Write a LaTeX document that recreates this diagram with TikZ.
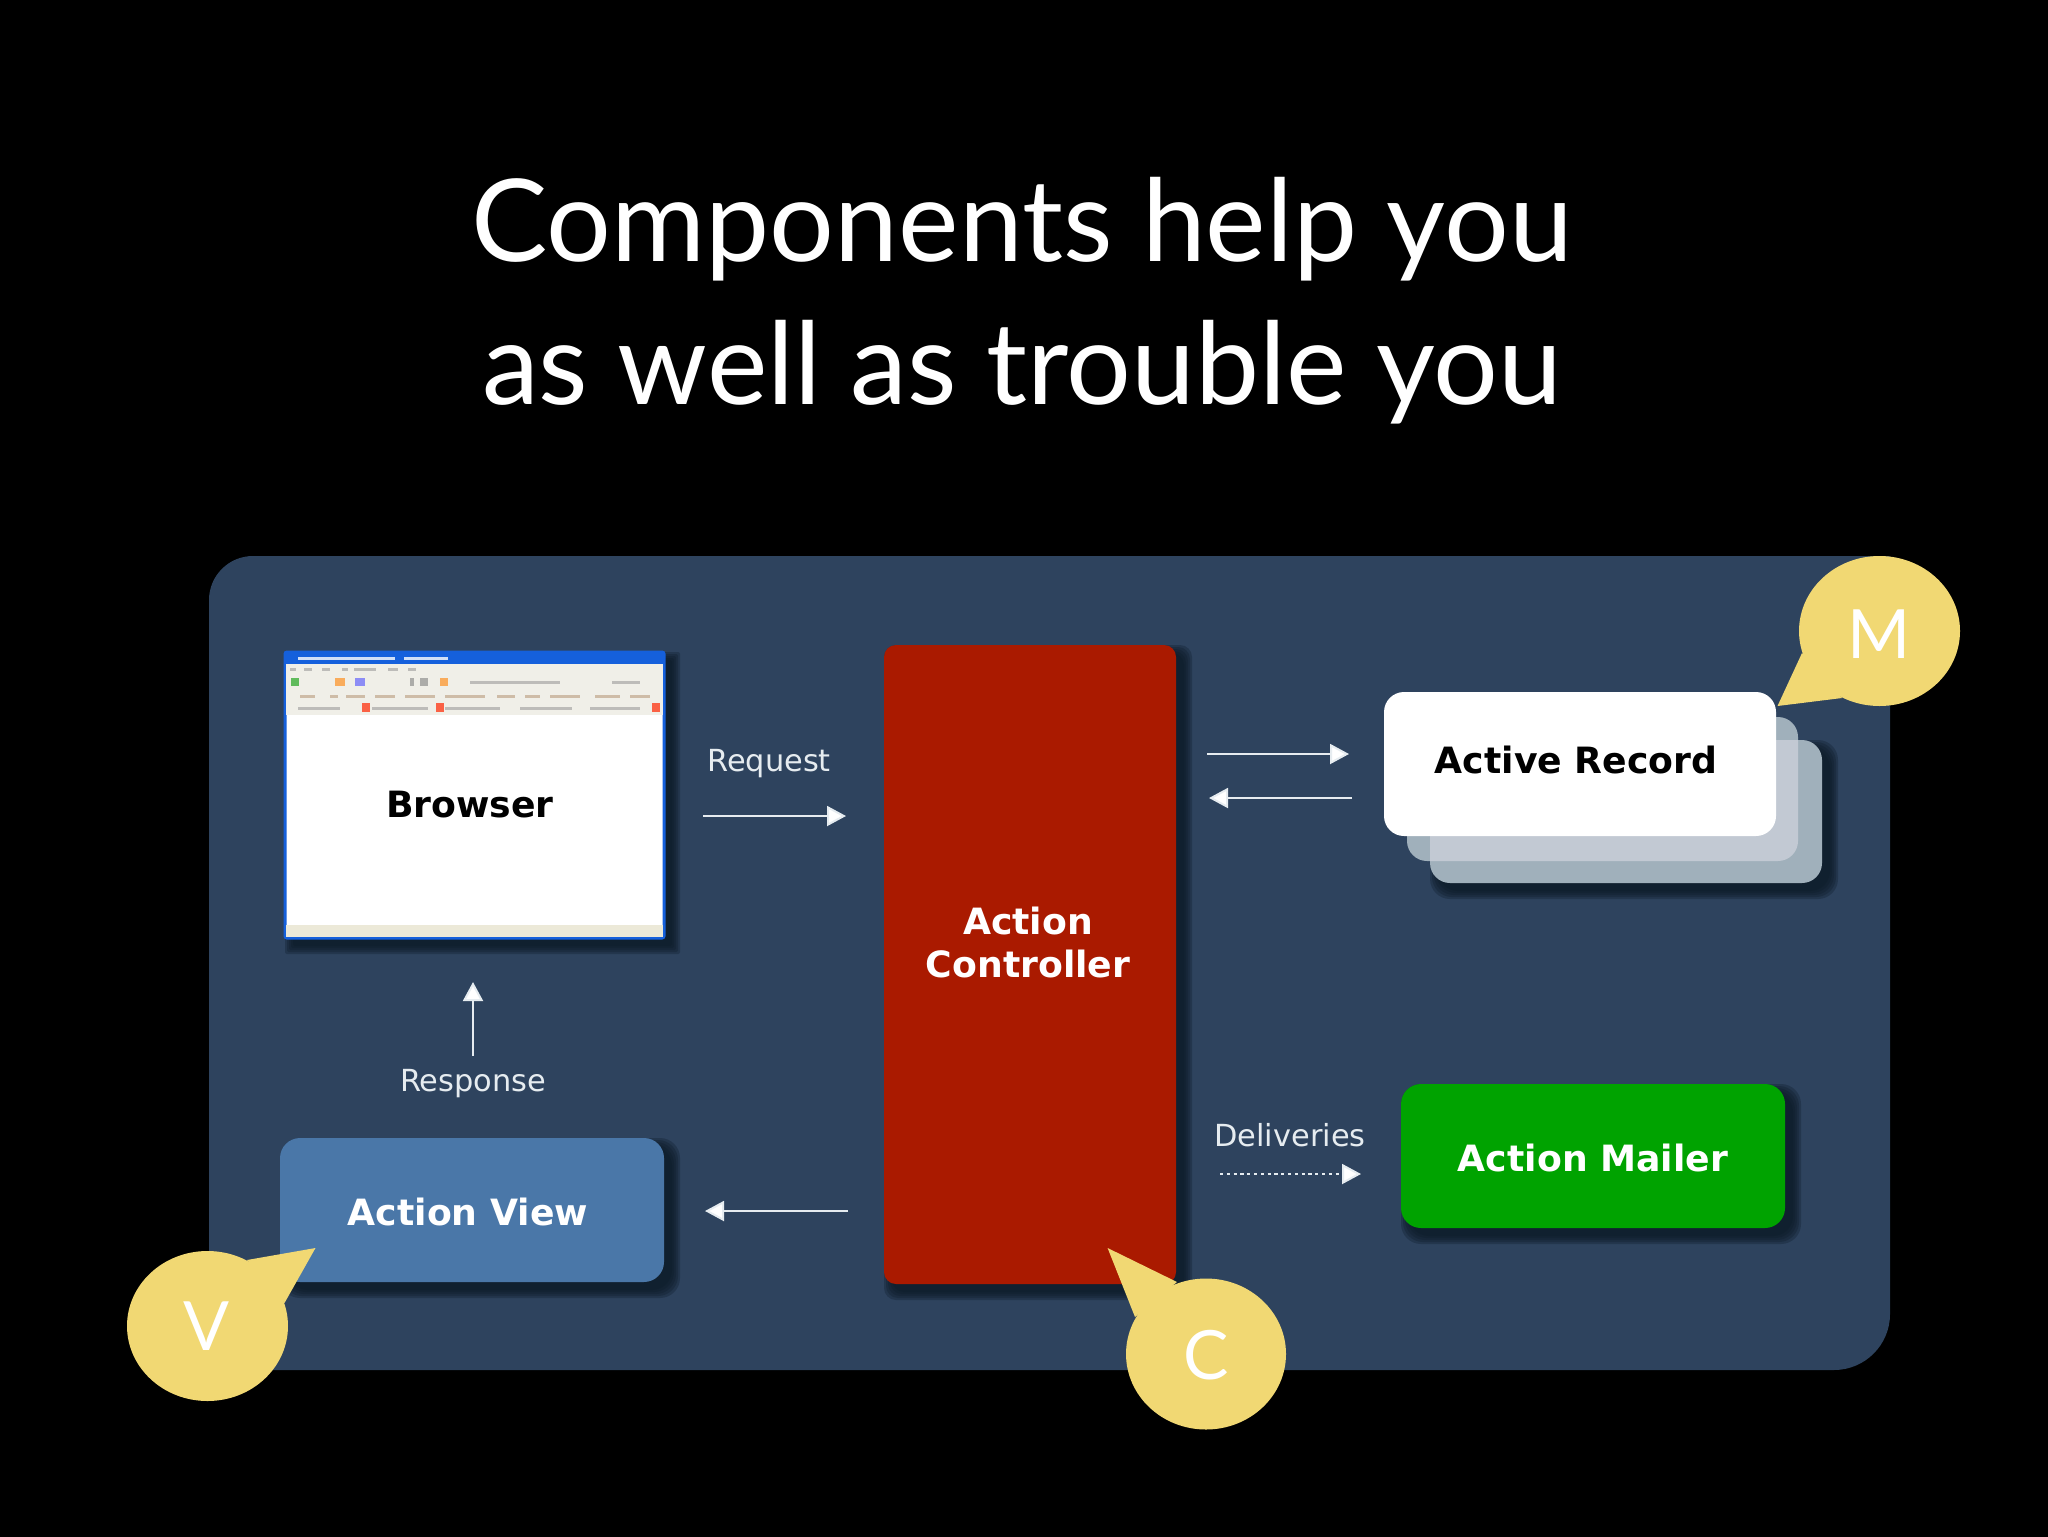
\documentclass[tikz,border=0pt]{standalone}
\usepackage{fontspec}
\setmainfont{Lato}
\newfontfamily\boxfont{DejaVu Sans}
\usetikzlibrary{arrows.meta,shapes.geometric,calc}
\definecolor{panelc}{HTML}{2E435E}
\definecolor{shadowc}{HTML}{0C1A28}
\definecolor{ctrlc}{HTML}{AA1A00}
\definecolor{viewc}{HTML}{4A77A8}
\definecolor{mailc}{HTML}{00A300}
\definecolor{stackc}{HTML}{A0B0BB}
\definecolor{stackl}{HTML}{C2C9D3}
\definecolor{bubblec}{HTML}{F1D873}
\definecolor{labelc}{HTML}{E6ECF0}
\definecolor{xpblue}{HTML}{1560DC}
\definecolor{xpband}{HTML}{F0EFE8}
\definecolor{xpstat}{HTML}{ECE9D8}
\newcommand{\softshadow}[5]{% x1 y1 x2 y2 radius, px
  \foreach \g in {8,6,4,2,0}{
    \fill[shadowc,opacity=0.3,rounded corners=#5*0.5pt]
      (#1+8-\g,#2+8-\g) rectangle (#3+8+\g,#4+8+\g);
  }}
\tikzset{
  x=0.5pt,y=-0.5pt,
  box/.style={inner sep=0pt,outer sep=0pt,rounded corners=10pt},
  boxtext/.style={font=\boxfont\bfseries\fontsize{18.1}{21.5}\selectfont,align=center,inner sep=0pt},
  flowlabel/.style={font=\boxfont\fontsize{15.2}{18}\selectfont,text=labelc,inner sep=0pt},
  flow/.style={draw=labelc,line width=1pt,-{Triangle[length=9.5pt,width=10pt,fill=white]}},
  dotflow/.style={flow,dash pattern=on 1.6pt off 1.8pt},
  bubble/.style={ellipse,fill=bubblec,inner sep=0pt,outer sep=0pt},
  smudge/.style={line width=1.5pt,opacity=0.45},
}
\begin{document}
\begin{tikzpicture}
\useasboundingbox (0,0) rectangle (2048,1536);
\fill[black,overlay] (-6,-6) rectangle (2054,1542);

% title
\node[text=white,inner sep=0pt,anchor=base] (t1) at (1022,261) {\fontsize{57.2}{58}\selectfont Components help you};
\node[text=white,inner sep=0pt,anchor=base] (t2) at (1022,404) {\fontsize{57.2}{58}\selectfont as well as trouble you};

% panel: two visible rounded corners, the others lie under the callouts
\fill[panelc] (209,600) [rounded corners=22pt] -- (209,556) [sharp corners] -- (1890,556)
   [rounded corners=28pt] -- (1890,1370) [sharp corners] -- (209,1370) -- cycle;

% shadows
\softshadow{285}{652}{664}{938}{2}
\softshadow{884}{645}{1176}{1284}{12}
\softshadow{1430}{740}{1822}{883}{20}
\softshadow{280}{1138}{664}{1282}{20}
\softshadow{1401}{1084}{1785}{1228}{20}

% browser window
\node[box,rounded corners=1pt,fill=white,draw=xpblue,line width=1.5pt,minimum width=189.5pt,minimum height=143pt] (browser) at (474.5,795) {};
\fill[xpblue] (285,652) rectangle (664,664);
\fill[xpband] (286,664) rectangle (663,715);
\fill[xpstat] (286,925) rectangle (663,937);
\foreach \a/\b in {298/395,404/448}{\draw[white,smudge,line width=1.5pt,opacity=.8] (\a,658)--(\b,658);}
\foreach \a/\b in {290/296,304/312,322/330,342/348,354/376,388/398,408/416}{\draw[gray,smudge] (\a,669)--(\b,669);}
\foreach \a/\b in {470/560,612/640}{\draw[gray,smudge] (\a,682)--(\b,682);}
\foreach \a/\b/\c in {291/299/green!60!black,335/345/orange,355/365/blue!70,420/428/gray,440/448/orange,410/414/gray}{\fill[\c,opacity=.6] (\a,678) rectangle (\b,686);}
\foreach \a/\b in {300/315,330/338,346/365,375/395,405/435,445/485,497/515,525/540,550/580,595/620,630/650}{\draw[gray!70!orange,smudge] (\a,696)--(\b,696);}
\foreach \a/\b in {298/340,372/428,445/500,520/572,590/640}{\draw[gray,smudge] (\a,708)--(\b,708);}
\foreach \a in {362,436,652}{\fill[red!70!orange,opacity=.7] (\a,703) rectangle (\a+8,712);}
\node[boxtext,text=black] (browsertext) at (470,805) {Browser};

% action controller
\node[box,rounded corners=6pt,fill=ctrlc,minimum width=146pt,minimum height=319.5pt] (ctrl) at (1030,964.5) {};
\node[boxtext,text=white] (ctrltext) at (1028,942) {Action\\Controller};

% active record stack
\node[box,fill=stackc,minimum width=196pt,minimum height=71.5pt] (ar3) at (1626,811.5) {};
\node[box,fill=stackc,minimum width=195.5pt,minimum height=72pt] (ar2) at (1602.5,789) {};
\begin{scope}
  \clip[rounded corners=10pt] (1407,717) rectangle (1798,861);
  \fill[stackl,rounded corners=10pt] (1430,740) rectangle (1822,883);
\end{scope}
\node[box,fill=white,minimum width=196pt,minimum height=72pt] (ar1) at (1580,764) {};
\node[boxtext,text=black] (artext) at (1576,760) {Active Record};

% action view
\node[box,fill=viewc,minimum width=192pt,minimum height=72pt] (view) at (472,1210) {};
\node[boxtext,text=white] (viewtext) at (468,1212) {Action View};

% action mailer
\node[box,fill=mailc,minimum width=192pt,minimum height=72pt] (mailer) at (1593,1156) {};
\node[boxtext,text=white] (mailtext) at (1593,1158) {Action Mailer};

% flow labels
\node[flowlabel] (req) at (769,764) {Request};
\node[flowlabel] (resp) at (473,1084) {Response};
\node[flowlabel] (deliv) at (1290,1135) {Deliveries};

% connectors
\coordinate (rowreq) at (0,816);
\coordinate (rowview) at (0,1211);
\coordinate (rowar1) at (0,754);
\coordinate (rowar2) at (0,798);
\coordinate (rowmail) at (0,1174);
\draw[flow,shorten <=19.5pt,shorten >=19pt] (browser.east |- rowreq) -- (ctrl.west |- rowreq);
\draw[flow,shorten <=18pt,shorten >=20.5pt] (ctrl.west |- rowview) -- (view.east |- rowview);
\draw[flow,shorten <=15.5pt,shorten >=17.5pt] (ctrl.east |- rowar1) -- (ar1.west |- rowar1);
\draw[flow,shorten <=16pt,shorten >=16.5pt] (ar1.west |- rowar2) -- (ctrl.east |- rowar2);
\draw[dotflow,shorten <=22pt,shorten >=20pt] (ctrl.east |- rowmail) -- (mailer.west |- rowmail);
\coordinate (respstart) at (473,1056);
\draw[flow,shorten >=22pt] (respstart) -- (browser.south -| respstart);

% callouts
\node[bubble,minimum width=80.5pt,minimum height=75pt] (bm) at (1879.5,631) {};
\fill[bubblec] (1777.5,706) -- (1802,653) -- (1842,698) -- cycle;
\node[text=white,font=\fontsize{34}{34}\selectfont,inner sep=0pt] (lm) at (1879,634) {M};

\node[bubble,minimum width=80.5pt,minimum height=75pt] (bv) at (207.5,1326) {};
\fill[bubblec] (315.5,1248) -- (247,1260) -- (284.5,1303) -- cycle;
\node[text=white,font=\fontsize{34}{34}\selectfont,inner sep=0pt] (lv) at (207,1326) {V};

\node[bubble,minimum width=80pt,minimum height=75.5pt] (bc) at (1206,1354) {};
\fill[bubblec] (1107.6,1248) -- (1177,1282) -- (1135,1317) -- cycle;
\node[text=white,font=\fontsize{34}{34}\selectfont,inner sep=0pt] (lc) at (1206,1355) {C};
\end{tikzpicture}
\end{document}
